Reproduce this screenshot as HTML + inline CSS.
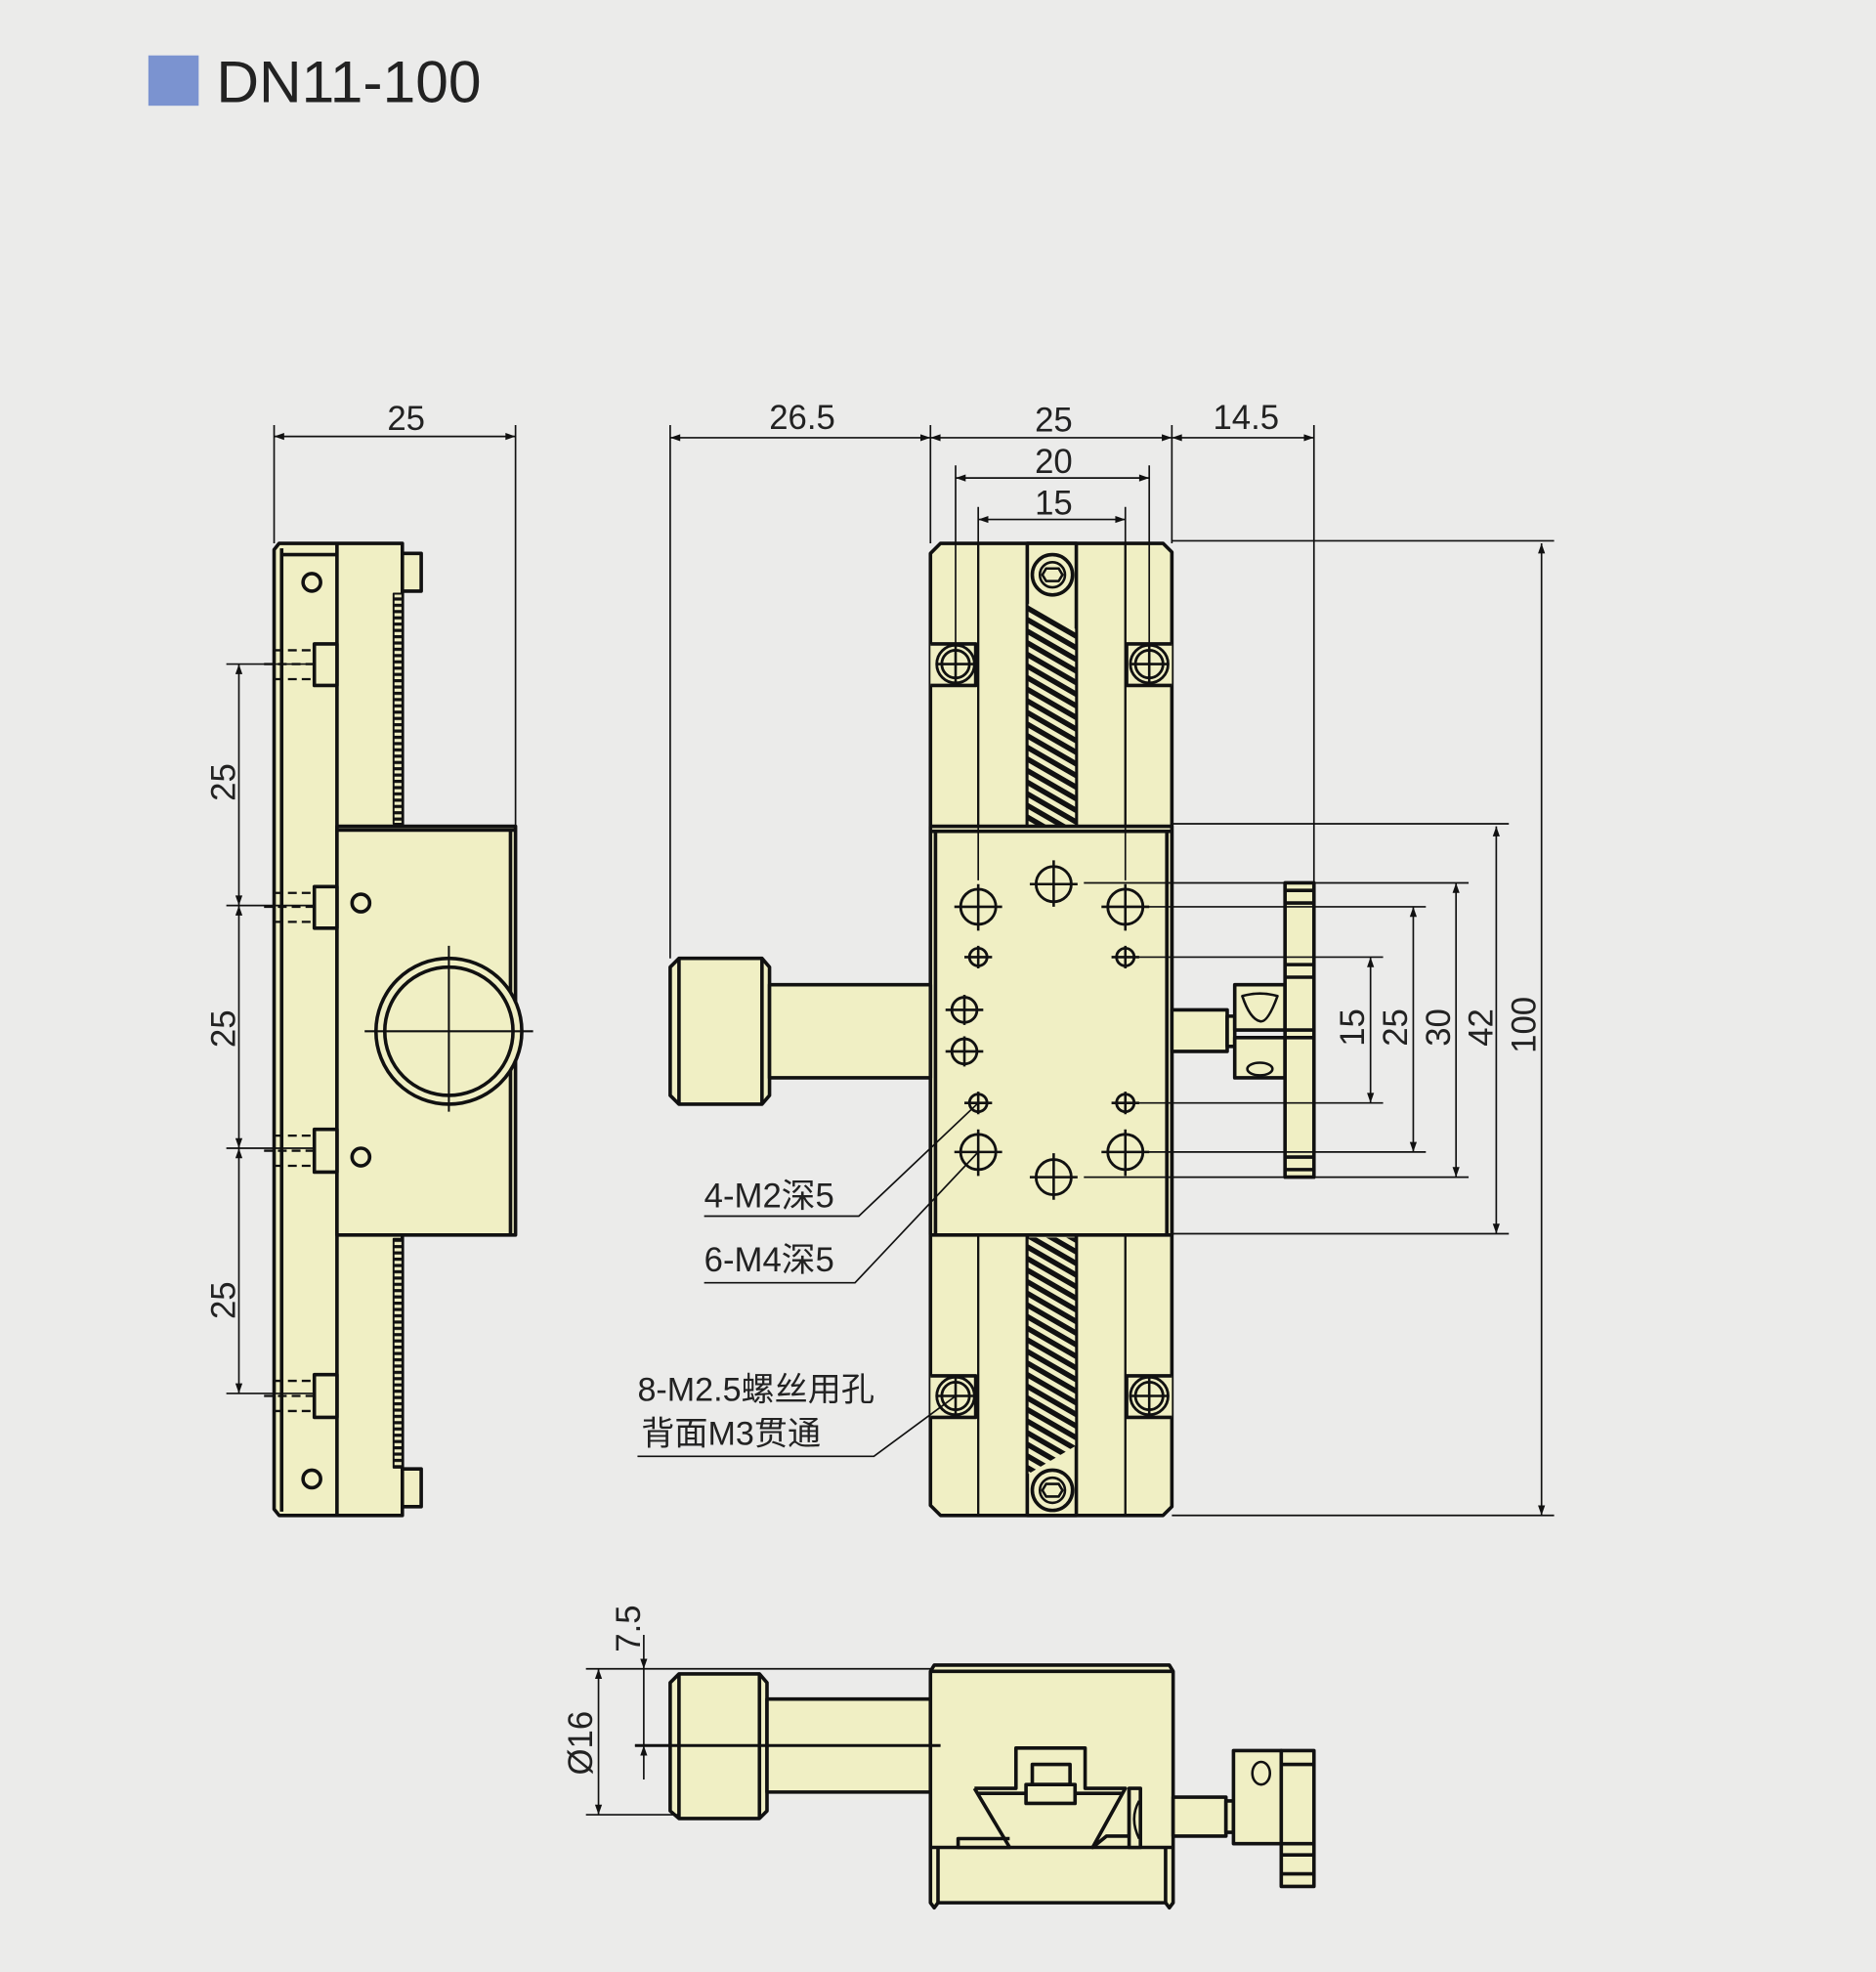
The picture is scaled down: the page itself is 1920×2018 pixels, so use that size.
<!DOCTYPE html>
<html><head><meta charset="utf-8"><style>
html,body{margin:0;padding:0;background:#ebebea;}
svg{display:block}
text{font-family:"Liberation Sans","Noto Sans CJK SC",sans-serif;fill:#222}
</style></head><body>
<svg width="1920" height="2018" viewBox="0 0 1492 1568" xmlns="http://www.w3.org/2000/svg">
<defs>
<pattern id="h1" width="8" height="8" patternUnits="userSpaceOnUse" patternTransform="rotate(30)">
<rect width="8" height="8" fill="#f0efc4"/><rect width="8" height="4.2" fill="#111"/></pattern>
<pattern id="h2" width="4" height="5" patternUnits="userSpaceOnUse">
<rect width="4" height="5" fill="#f0efc4"/><rect width="4" height="2.5" fill="#111"/></pattern>
<marker id="a" viewBox="0 0 10 10" refX="10" refY="5" markerWidth="14" markerHeight="8" orient="auto-start-reverse" markerUnits="userSpaceOnUse"><path d="M0,1.5L10,5L0,8.5z" fill="#111"/></marker>
</defs>
<rect width="1492" height="1568" fill="#ebebea"/>
<rect x="118" y="44" width="40" height="40" fill="#7b93d0"/>
<text x="172" y="81" font-size="47">DN11-100</text>

<g fill="#f0efc4" stroke="#111" stroke-width="2.8" stroke-linejoin="round">
<!-- LEFT SIDE VIEW -->
<path d="M222,432 H320 V1205 H222 L218,1200 V437 Z"/>
<line x1="224" y1="436" x2="224" y2="1202"/>
<line x1="268" y1="432" x2="268" y2="1205"/>
<line x1="224" y1="441" x2="268" y2="441"/>
<rect x="313" y="472" width="7" height="183" fill="url(#h2)" stroke-width="1.5"/>
<rect x="313" y="985" width="7" height="182" fill="url(#h2)" stroke-width="1.5"/>
<rect x="320" y="440" width="15" height="30"/>
<rect x="320" y="1168" width="15" height="30"/>
<rect x="268" y="657" width="142" height="325"/>
<line x1="268" y1="660" x2="410" y2="660"/>
<line x1="406" y1="660" x2="406" y2="982"/>
<circle cx="357" cy="820" r="58"/><circle cx="357" cy="820" r="51"/>
<circle cx="248" cy="463" r="7"/><circle cx="248" cy="1176" r="7"/>
<circle cx="287" cy="718" r="7"/><circle cx="287" cy="920" r="7"/>
<rect x="250" y="512" width="18" height="33"/><rect x="250" y="705" width="18" height="33"/>
<rect x="250" y="898" width="18" height="34"/><rect x="250" y="1093" width="18" height="34"/>

<!-- TOP VIEW body -->
<path d="M748,432 H925 L932,439 V1198 L925,1205 H748 L740,1197 V440 Z"/>
<line x1="778" y1="432" x2="778" y2="1205" stroke-width="1.8"/>
<line x1="895" y1="432" x2="895" y2="1205" stroke-width="1.8"/>
<rect x="817" y="432" width="39" height="225"/>
<rect x="817" y="982" width="39" height="223"/>
<path d="M818,480 L855,500 V656 H818Z" fill="url(#h1)" stroke="none"/>
<path d="M818,984 H855 V1150 L818,1172Z" fill="url(#h1)" stroke="none"/>
<circle cx="837" cy="457" r="16"/><circle cx="837" cy="457" r="10" stroke-width="2"/><path d="M832,452h10l3,5l-3,5h-10l-3,-5z" stroke-width="2"/>
<circle cx="837" cy="1185" r="16"/><circle cx="837" cy="1185" r="10" stroke-width="2"/><path d="M832,1180h10l3,5l-3,5h-10l-3,-5z" stroke-width="2"/>
<path d="M740,512 H776 V545 H740" /><path d="M932,512 H896 V545 H932"/>
<path d="M740,1094 H776 V1127 H740"/><path d="M932,1094 H896 V1127 H932"/>
<rect x="740" y="657" width="192" height="325"/>
<line x1="740" y1="661" x2="932" y2="661"/><line x1="744" y1="661" x2="744" y2="982"/><line x1="928" y1="661" x2="928" y2="982"/>
<!-- left knob -->
<path d="M540,762 H606 L612,769 V871 L606,878 H540 L533,871 V769Z"/>
<line x1="540" y1="762" x2="540" y2="878"/><line x1="606" y1="762" x2="606" y2="878"/>
<rect x="612" y="783" width="128" height="74"/>
<!-- right micrometer -->
<rect x="932" y="803" width="44" height="33"/>
<rect x="976" y="808" width="6" height="24"/>
<rect x="982" y="783" width="40" height="36"/><rect x="982" y="825" width="40" height="32"/>
<path d="M988,792 Q1002,788 1016,792 Q1008,814 1002,812 Q994,810 988,792Z" stroke-width="2"/>
<ellipse cx="1002" cy="850" rx="10" ry="5" stroke-width="2"/>
<rect x="1022" y="702" width="23" height="234"/>
<line x1="1022" y1="708" x2="1045" y2="708"/><line x1="1022" y1="718" x2="1045" y2="718"/>
<line x1="1022" y1="767" x2="1045" y2="767"/><line x1="1022" y1="777" x2="1045" y2="777"/>
<line x1="1022" y1="819" x2="1045" y2="819"/><line x1="1022" y1="825" x2="1045" y2="825"/>
<line x1="1022" y1="920" x2="1045" y2="920"/><line x1="1022" y1="930" x2="1045" y2="930"/>

<!-- BOTTOM VIEW -->
<path d="M540,1331 H604 L610,1338 V1440 L604,1446 H540 L533,1440 V1338Z"/>
<line x1="540" y1="1331" x2="540" y2="1446"/><line x1="604" y1="1331" x2="604" y2="1446"/>
<rect x="610" y="1351" width="130" height="74"/>
<path d="M743,1324 H930 L933,1329 V1513 L930,1517 L927,1513 H746 L743,1517 L740,1513 V1329Z"/>
<line x1="740" y1="1329" x2="933" y2="1329"/>
<line x1="740" y1="1469" x2="933" y2="1469"/>
<line x1="746" y1="1469" x2="746" y2="1513"/><line x1="927" y1="1469" x2="927" y2="1513"/>
<path d="M775,1422 H808 V1390 H863 V1422 H895 L869,1469 L880,1460 H898 V1422 M775,1422 L803,1469 H762 V1462 H803" fill="#f0efc4"/>
<line x1="778" y1="1426" x2="816" y2="1426"/><line x1="855" y1="1426" x2="893" y2="1426"/>
<rect x="821" y="1403" width="30" height="16"/><rect x="816" y="1419" width="39" height="15"/>
<rect x="898" y="1422" width="9" height="47"/>
<path d="M906,1432 Q898,1446 906,1462" fill="none" stroke-width="2"/>
<rect x="933" y="1429" width="42" height="31"/>
<rect x="975" y="1432" width="6" height="25"/>
<rect x="981" y="1392" width="38" height="74"/>
<ellipse cx="1003" cy="1410" rx="7" ry="9" stroke-width="2"/>
<rect x="1019" y="1392" width="26" height="108"/>
<line x1="1019" y1="1403" x2="1045" y2="1403"/><line x1="1019" y1="1466" x2="1045" y2="1466"/>
<line x1="1019" y1="1475" x2="1045" y2="1475"/><line x1="1019" y1="1490" x2="1045" y2="1490"/>
</g>

<!-- holes -->
<g fill="#f0efc4" stroke="#111" stroke-width="2.2">
<circle cx="778" cy="721" r="14"/><circle cx="895" cy="721" r="14"/>
<circle cx="778" cy="916" r="14"/><circle cx="895" cy="916" r="14"/>
<circle cx="838" cy="703" r="14"/><circle cx="838" cy="936" r="14"/>
<circle cx="778" cy="761" r="7"/><circle cx="895" cy="761" r="7"/>
<circle cx="778" cy="877" r="7"/><circle cx="895" cy="877" r="7"/>
<circle cx="767" cy="803" r="10"/><circle cx="767" cy="836" r="10"/>
<circle cx="760" cy="528" r="15"/><circle cx="760" cy="528" r="11"/>
<circle cx="914" cy="528" r="15"/><circle cx="914" cy="528" r="11"/>
<circle cx="760" cy="1110" r="15"/><circle cx="760" cy="1110" r="11"/>
<circle cx="914" cy="1110" r="15"/><circle cx="914" cy="1110" r="11"/>
</g>
<g stroke="#111" stroke-width="2" fill="none">
<path d="M759,721h38M778,703v37M876,721h38M895,703v37M759,916h38M778,898v37M876,916h38M895,898v37M819,703h38M838,684v37M819,936h38M838,917v37"/>
<path d="M767,761h22M778,752v18M884,761h22M895,752v18M767,877h22M778,868v18M884,877h22M895,868v18"/>
<path d="M752,803h30M767,791v24M752,836h30M767,824v24"/>
<path d="M745,528h30M760,513v30M899,528h30M914,513v30M745,1110h30M760,1095v30M899,1110h30M914,1095v30"/>
<path d="M290,820h134M357,752v132M350,820h14M357,813v14" stroke-width="1.6"/>
</g>
<g stroke="#111" stroke-width="1.8" stroke-dasharray="7,4" fill="none">
<path d="M218,517h32M218,540h32M210,528h40M218,710h32M218,733h32M210,721h40M218,903h32M218,927h32M210,915h40M218,1098h32M218,1122h32M210,1110h40"/>
</g>

<!-- dimensions -->
<g stroke="#111" stroke-width="1.3" fill="none">
<path d="M218,338V432M410,338V657"/>
<line x1="218" y1="347" x2="410" y2="347" marker-start="url(#a)" marker-end="url(#a)"/>
<path d="M180,528H250M180,720H250M180,913H250M180,1108H250"/>
<line x1="190" y1="528" x2="190" y2="720" marker-start="url(#a)" marker-end="url(#a)"/>
<line x1="190" y1="720" x2="190" y2="913" marker-start="url(#a)" marker-end="url(#a)"/>
<line x1="190" y1="913" x2="190" y2="1108" marker-start="url(#a)" marker-end="url(#a)"/>
<path d="M533,338V762M740,338V432M932,338V432M1045,338V702M760,370V512M914,370V512M778,403V700M895,403V700"/>
<line x1="533" y1="348" x2="740" y2="348" marker-start="url(#a)" marker-end="url(#a)"/>
<line x1="740" y1="348" x2="932" y2="348" marker-start="url(#a)" marker-end="url(#a)"/>
<line x1="932" y1="348" x2="1045" y2="348" marker-start="url(#a)" marker-end="url(#a)"/>
<line x1="760" y1="380" x2="914" y2="380" marker-start="url(#a)" marker-end="url(#a)"/>
<line x1="778" y1="413" x2="895" y2="413" marker-start="url(#a)" marker-end="url(#a)"/>
<path d="M932,430H1236M932,1205H1236M932,655H1200M932,981H1200M862,702H1168M862,936H1168M910,721H1134M910,916H1134M905,761H1100M905,877H1100"/>
<line x1="1226" y1="432" x2="1226" y2="1205" marker-start="url(#a)" marker-end="url(#a)"/>
<line x1="1190" y1="657" x2="1190" y2="981" marker-start="url(#a)" marker-end="url(#a)"/>
<line x1="1158" y1="702" x2="1158" y2="936" marker-start="url(#a)" marker-end="url(#a)"/>
<line x1="1124" y1="721" x2="1124" y2="916" marker-start="url(#a)" marker-end="url(#a)"/>
<line x1="1090" y1="761" x2="1090" y2="877" marker-start="url(#a)" marker-end="url(#a)"/>
<path d="M466,1327H740M466,1443H540M505,1388H748"/>
<line x1="476" y1="1327" x2="476" y2="1443" marker-start="url(#a)" marker-end="url(#a)"/>
<line x1="512" y1="1300" x2="512" y2="1327" marker-end="url(#a)"/>
<line x1="512" y1="1415" x2="512" y2="1388" marker-end="url(#a)"/>
<line x1="512" y1="1327" x2="512" y2="1388"/>
<path d="M560,967H683L778,877M560,1020H680L778,916M507,1158H695L760,1110"/>
</g>
<line x1="505" y1="1388" x2="748" y2="1388" stroke="#111" stroke-width="2.4"/>

<g font-size="27">
<text x="323" y="342" text-anchor="middle">25</text>
<text x="638" y="341" text-anchor="middle">26.5</text>
<text x="838" y="343" text-anchor="middle">25</text>
<text x="991" y="341" text-anchor="middle">14.5</text>
<text x="838" y="376" text-anchor="middle">20</text>
<text x="838" y="409" text-anchor="middle">15</text>
<text transform="translate(187,622) rotate(-90)" text-anchor="middle">25</text>
<text transform="translate(187,818) rotate(-90)" text-anchor="middle">25</text>
<text transform="translate(187,1034) rotate(-90)" text-anchor="middle">25</text>
<text transform="translate(1085,817) rotate(-90)" text-anchor="middle">15</text>
<text transform="translate(1119,817) rotate(-90)" text-anchor="middle">25</text>
<text transform="translate(1153,817) rotate(-90)" text-anchor="middle">30</text>
<text transform="translate(1187,817) rotate(-90)" text-anchor="middle">42</text>
<text transform="translate(1221,815) rotate(-90)" text-anchor="middle">100</text>
<text transform="translate(471,1386) rotate(-90)" text-anchor="middle">Ø16</text>
<text transform="translate(509,1295) rotate(-90)" text-anchor="middle">7.5</text>
<text x="560" y="960" font-size="27">4-M2深5</text>
<text x="560" y="1011" font-size="27">6-M4深5</text>
<text x="507" y="1114" font-size="26.5">8-M2.5螺丝用孔</text>
<text x="510" y="1149" font-size="26.5">背面M3贯通</text>
</g>
</svg>
</body></html>
